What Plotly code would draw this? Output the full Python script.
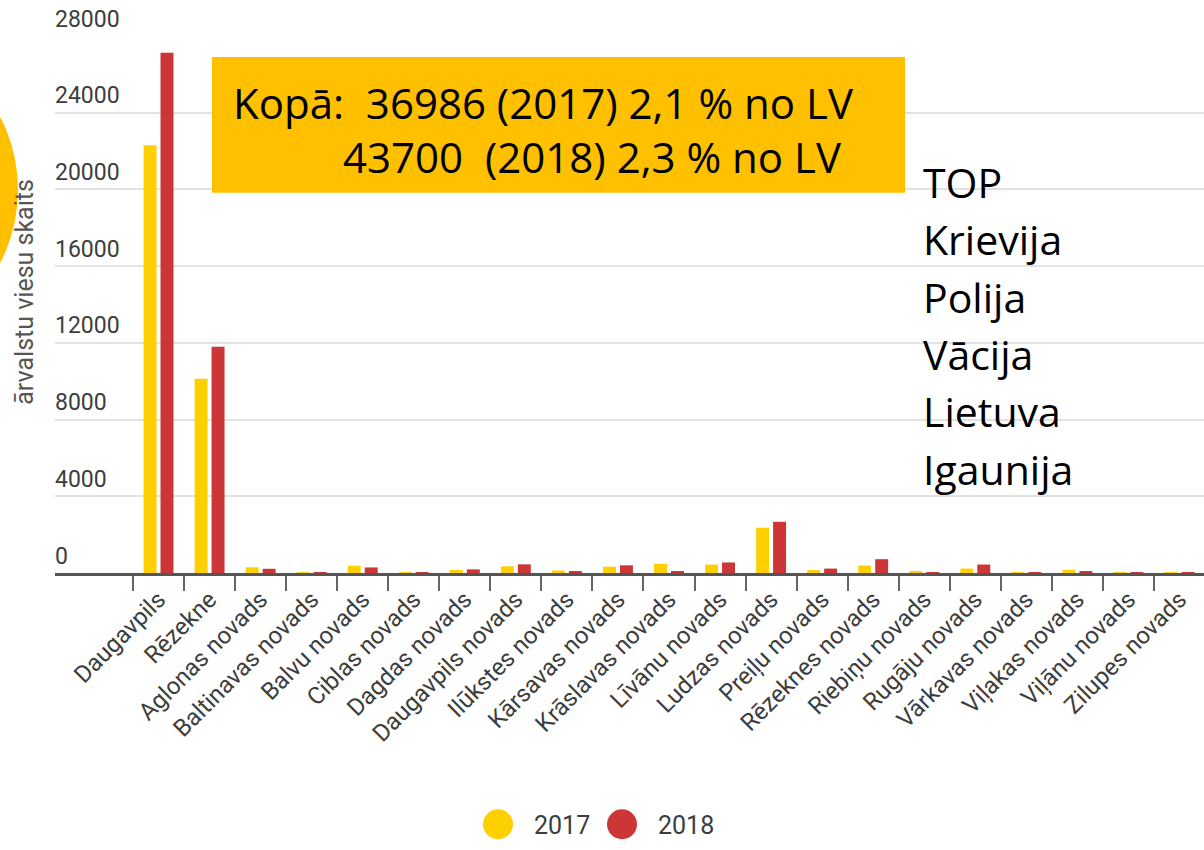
import plotly.graph_objects as go

categories = ["Daugavpils", "Rēzekne", "Aglonas novads", "Baltinavas novads", "Balvu novads",
              "Ciblas novads", "Dagdas novads", "Daugavpils novads", "Ilūkstes novads",
              "Kārsavas novads", "Krāslavas novads", "Līvānu novads", "Ludzas novads",
              "Preiļu novads", "Rēzeknes novads", "Riebiņu novads", "Rugāju novads",
              "Vārkavas novads", "Viļakas novads", "Viļānu novads", "Zilupes novads"]
v2017 = [22300, 10130, 300, 45, 380, 10, 160, 350, 130, 330, 480, 440, 2360, 150, 390, 110, 230, 10, 170, 10, 30]
v2018 = [27130, 11800, 220, 50, 290, 5, 190, 450, 90, 400, 90, 550, 2670, 230, 720, 30, 440, 5, 60, 30, 10]
series_names = ["2017", "2018"]
colors = ["#FFD000", "#CC3636"]
ytick_vals = [0, 4000, 8000, 12000, 16000, 20000, 24000, 28000]
top_list = ["TOP", "Krievija", "Polija", "Vācija", "Lietuva", "Igaunija"]
box_lines = ["Kopā:\u00a0\u00a036986 (2017) 2,1 % no LV", "43700\u00a0\u00a0(2018) 2,3 % no LV"]
y_title = "ārvalstu viesu skaits"

W, H = 1204, 850
L, R, T, B = 55, 0, 36, 276.5
PW, PH = W - L - R, H - T - B


def px(x):
    return (x - L) / PW


def py(y):
    return (H - B - y) / PH


fig = go.Figure()
for name, vals, col in zip(series_names, [v2017, v2018], colors):
    fig.add_trace(go.Bar(x=categories, y=vals, name=name, marker_color=col,
                         marker_line_width=0, showlegend=False))

fig.update_layout(
    width=W, height=H,
    margin=dict(l=L, r=R, t=T, b=B),
    plot_bgcolor="white", paper_bgcolor="white",
    barmode="group", bargap=0.336, bargroupgap=0.235,
    font=dict(family="Roboto", color="#444"),
)
fig.update_xaxes(
    type="category", range=[-2.028, 20.48],
    tickson="boundaries", ticks="outside", ticklen=15, tickwidth=2, tickcolor="#666",
    showline=True, linecolor="#555", linewidth=3,
    tickangle=-45, tickfont=dict(family="Roboto", size=24, color="#3d3d3d"),
    showgrid=False,
)
fig.update_yaxes(
    range=[0, 28000], tickvals=ytick_vals, showticklabels=False,
    showgrid=True, gridcolor="#e2e2e2", gridwidth=2, zeroline=False,
)

annotations = []
for v in ytick_vals:
    annotations.append(dict(x=0, xref="paper", y=v, yref="y", text=f"{v}", showarrow=False,
                            xanchor="left", yanchor="middle", yshift=17, xshift=-2,
                            font=dict(family="Roboto", size=23, color="#3d3d3d")))
annotations.append(dict(x=px(25), xref="paper", y=py(292), yref="paper", text=y_title,
                        textangle=-90, showarrow=False, xanchor="center", yanchor="middle",
                        font=dict(family="Roboto", size=25, color="#555")))

shapes = []
# orange circle at far left
shapes.append(dict(type="circle", xref="paper", yref="paper",
                   x0=px(-300), x1=px(18), y0=py(31), y1=py(349),
                   fillcolor="#FFC000", line_width=0, layer="above"))
# gold box
shapes.append(dict(type="rect", xref="paper", yref="paper",
                   x0=px(212), x1=px(905), y0=py(193), y1=py(57),
                   fillcolor="#FFC000", line_width=0, layer="above"))
annotations.append(dict(x=px(231), xref="paper", y=py(103), yref="paper", text=box_lines[0],
                        showarrow=False, xanchor="left", yanchor="middle",
                        font=dict(family="Open Sans", size=42, color="black")))
annotations.append(dict(x=px(341), xref="paper", y=py(157), yref="paper", text=box_lines[1],
                        showarrow=False, xanchor="left", yanchor="middle",
                        font=dict(family="Open Sans", size=42, color="black")))
for i, t in enumerate(top_list):
    annotations.append(dict(x=px(921), xref="paper", y=py(182 + 57.4 * i), yref="paper", text=t,
                            showarrow=False, xanchor="left", yanchor="middle",
                            font=dict(family="Open Sans", size=41, color="black")))

# legend
leg_x = [498, 622]
for cx, name, col in zip(leg_x, series_names, colors):
    shapes.append(dict(type="circle", xref="paper", yref="paper",
                       x0=px(cx - 15), x1=px(cx + 15), y0=py(840), y1=py(810),
                       fillcolor=col, line_width=0))
    annotations.append(dict(x=px(cx + 34), xref="paper", y=py(826), yref="paper", text=name,
                            showarrow=False, xanchor="left", yanchor="middle",
                            font=dict(family="Roboto", size=25, color="#3d3d3d")))

fig.update_layout(annotations=annotations, shapes=shapes)
fig.write_html("out.html", config={"displayModeBar": False},
               post_script="document.body.style.margin='0';document.body.style.overflow='hidden';")
